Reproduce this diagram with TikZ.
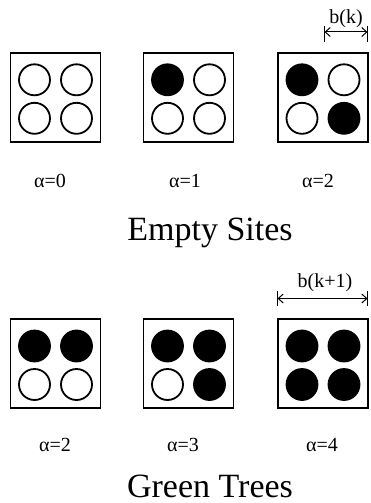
\documentclass[tikz,border=0pt]{standalone}
\usepackage{fontspec}
\setmainfont{Liberation Serif}
\usetikzlibrary{arrows.meta}
% one lattice cell: name, x, y, then styles of the top-left, top-right,
% bottom-left and bottom-right sites
\newcommand{\cellbox}[7]{%
  \node[cell] (#1) at (#2,#3) {};
  \node[#4] (#1-tl) at (#2-21,#3-17.5) {};
  \node[#5] (#1-tr) at (#2+21,#3-17.5) {};
  \node[#6] (#1-bl) at (#2-21,#3+21) {};
  \node[#7] (#1-br) at (#2+21,#3+21) {};
}
\begin{document}
\begin{tikzpicture}[x=1pt,y=-1pt,
  cell/.style={draw=black,line width=1.5pt,minimum width=90pt,minimum height=89pt,inner sep=0pt},
  site/.style={circle,draw=black,line width=1.8pt,minimum size=31pt,inner sep=0pt},
  tree/.style={site,fill=black},
  alab/.style={font=\fontsize{20}{23}\selectfont,inner sep=0pt,anchor=base},
  ttl/.style={font=\fontsize{34}{38}\selectfont,inner sep=0pt,anchor=base,text depth=0pt},
  span/.style={line width=1pt,{Straight Barb[length=5pt,width=9pt]}-{Straight Barb[length=5pt,width=9pt]}},
  tick/.style={line width=1.2pt}]
\useasboundingbox (0,0) rectangle (370,503);

% empty sites
\cellbox{e0}{55.5}{97.3}{site}{site}{site}{site}
\cellbox{e1}{188.5}{97.3}{tree}{site}{site}{site}
\cellbox{e2}{323}{97.3}{tree}{site}{site}{tree}

\node[alab] (le0) at (50,187) {α=0};
\node[alab] (le1) at (185,187) {α=1};
\node[alab] (le2) at (318,187) {α=2};
\node[ttl] (te) at (210,240) {Empty Sites};

% width of one site
\coordinate (bk1) at (324.5,32);
\coordinate (bk2) at (367.5,32);
\draw[tick] (324.5,26) -- (324.5,42);
\draw[tick] (367.5,26) -- (367.5,42);
\draw[span] (bk1) -- (bk2);
\node[alab] (bk) at (346,23.5) {b(k)};

% green trees
\cellbox{g2}{55.5}{363.5}{tree}{tree}{site}{site}
\cellbox{g3}{188.5}{363.5}{tree}{tree}{site}{tree}
\cellbox{g4}{323}{363.5}{tree}{tree}{tree}{tree}

\node[alab] (lg2) at (55,451) {α=2};
\node[alab] (lg3) at (183,451) {α=3};
\node[alab] (lg4) at (322,451) {α=4};
\node[ttl] (tg) at (210,497) {Green Trees};

% width of one cell
\coordinate (bc1) at (277.5,298.5);
\coordinate (bc2) at (367.5,298.5);
\draw[tick] (277.5,291) -- (277.5,306);
\draw[tick] (367.5,291) -- (367.5,306);
\draw[span] (bc1) -- (bc2);
\node[alab] (bc) at (325,287) {b(k+1)};
\end{tikzpicture}
\end{document}
